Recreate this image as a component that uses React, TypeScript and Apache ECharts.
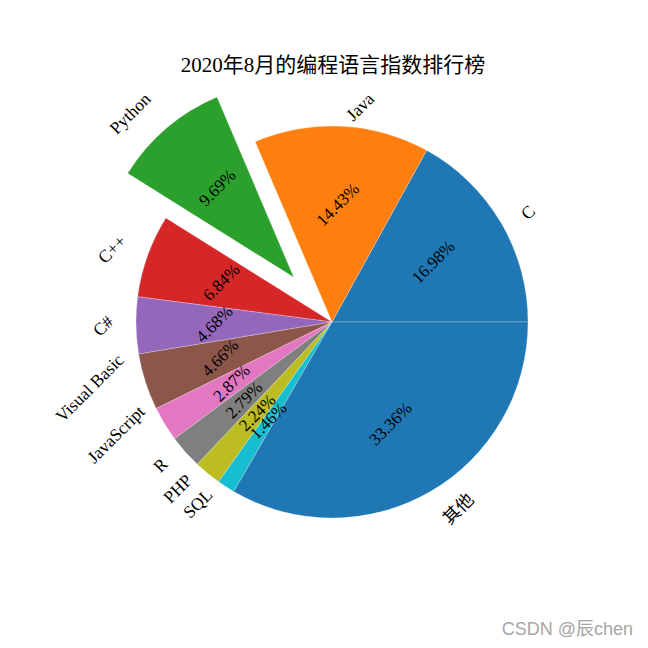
import React, { useEffect, useRef } from 'react';
import * as echarts from 'echarts';

const categories = ['C', 'Java', 'Python', 'C++', 'C#', 'Visual Basic', 'JavaScript', 'R', 'PHP', 'SQL', '其他'];
const values = [16.98, 14.43, 9.69, 6.84, 4.68, 4.66, 2.87, 2.79, 2.24, 1.46, 33.36];
const explode = [0, 0, 0.3, 0, 0, 0, 0, 0, 0, 0, 0];
const colors = ['#1f77b4', '#ff7f0e', '#2ca02c', '#d62728', '#9467bd', '#8c564b', '#e377c2', '#7f7f7f', '#bcbd22', '#17becf', '#1f77b4'];
const titleText = '2020年8月的编程语言指数排行榜';
const watermarkText = 'CSDN @辰chen';

const CX = 332;
const CY = 322;
const R = 196;
const LABEL_DIST = 1.1;
const PCT_DIST = 0.6;
const ROT = 45;

export default function App() {
  const ref = useRef<HTMLDivElement>(null);
  useEffect(() => {
    const chart = echarts.init(ref.current!, null, { renderer: 'svg' });
    const total = values.reduce((a, b) => a + b, 0);
    const mids: number[] = [];
    let acc = 0;
    values.forEach((v) => {
      mids.push(((acc + v / 2) / total) * Math.PI * 2);
      acc += v;
    });
    const cxs = mids.map((m, i) => CX + explode[i] * R * Math.cos(m));
    const cys = mids.map((m, i) => CY - explode[i] * R * Math.sin(m));
    const font = "'Liberation Serif', 'Noto Sans CJK SC', serif";
    const clear = 'rgba(0,0,0,0)';
    const base: any = {
      type: 'pie',
      radius: R,
      startAngle: 0,
      clockwise: false,
      avoidLabelOverlap: false,
      animation: false,
      silent: true,
      labelLine: { show: false },
      emphasis: { disabled: true },
    };
    const seam = { borderColor: 'rgba(255,255,255,0.5)', borderWidth: 0.5 };

    const mainData = categories.map((n, i) => ({
      name: n,
      value: values[i],
      itemStyle: explode[i] > 0 ? { color: clear, borderWidth: 0 } : { color: colors[i], ...seam },
    }));

    const explodedSeries = explode
      .map((e, k) => ({ e, k }))
      .filter((o) => o.e > 0)
      .map(({ k }) => ({
        ...base,
        center: [cxs[k], cys[k]],
        label: { show: false },
        data: categories.map((n, i) => ({
          name: n,
          value: values[i],
          itemStyle: i === k ? { color: colors[i], ...seam } : { color: clear, borderWidth: 0 },
        })),
      }));

    const option: any = {
      animation: false,
      graphic: [
        {
          type: 'text',
          x: 333,
          y: 65,
          style: {
            text: titleText,
            font: `21px ${font}`,
            fill: '#000',
            textAlign: 'center',
            textVerticalAlign: 'middle',
          },
        },
        {
          type: 'text',
          x: 633,
          y: 629,
          style: {
            text: watermarkText,
            font: "18px 'Liberation Sans', 'Noto Sans CJK SC', sans-serif",
            fill: '#a6a6a6',
            textAlign: 'right',
            textVerticalAlign: 'middle',
          },
        },
      ],
      series: [
        {
          ...base,
          center: [CX, CY],
          data: mainData,
          label: {
            show: true,
            position: 'outside',
            formatter: '{b}',
            rotate: ROT,
            color: '#000',
            fontFamily: font,
            fontSize: 17.5,
          },
          labelLayout: (p: any) => {
            const i = p.dataIndex;
            const m = mids[i];
            const xt = cxs[i] + LABEL_DIST * R * Math.cos(m);
            const yt = cys[i] - LABEL_DIST * R * Math.sin(m);
            const w = p.labelRect.width;
            const x = xt - CX > 0 ? xt + w / 2 : xt - w / 2;
            return { x, y: yt, align: 'center', verticalAlign: 'middle', rotate: ROT };
          },
        },
        ...explodedSeries,
        {
          ...base,
          center: [CX, CY],
          data: categories.map((n, i) => ({ name: n, value: values[i], itemStyle: { color: clear, borderWidth: 0 } })),
          label: {
            show: true,
            position: 'inside',
            formatter: (p: any) => ((p.value / total) * 100).toFixed(2) + '%',
            rotate: ROT,
            color: '#000',
            fontFamily: font,
            fontSize: 17,
          },
          labelLayout: (p: any) => {
            const i = p.dataIndex;
            const m = mids[i];
            return {
              x: cxs[i] + PCT_DIST * R * Math.cos(m),
              y: cys[i] - PCT_DIST * R * Math.sin(m),
              align: 'center',
              verticalAlign: 'middle',
              rotate: ROT,
            };
          },
        },
      ],
    };
    chart.setOption(option);
    return () => chart.dispose();
  }, []);
  return <div ref={ref} style={{ position: 'absolute', left: 0, top: 0, width: 648, height: 648 }} />;
}
